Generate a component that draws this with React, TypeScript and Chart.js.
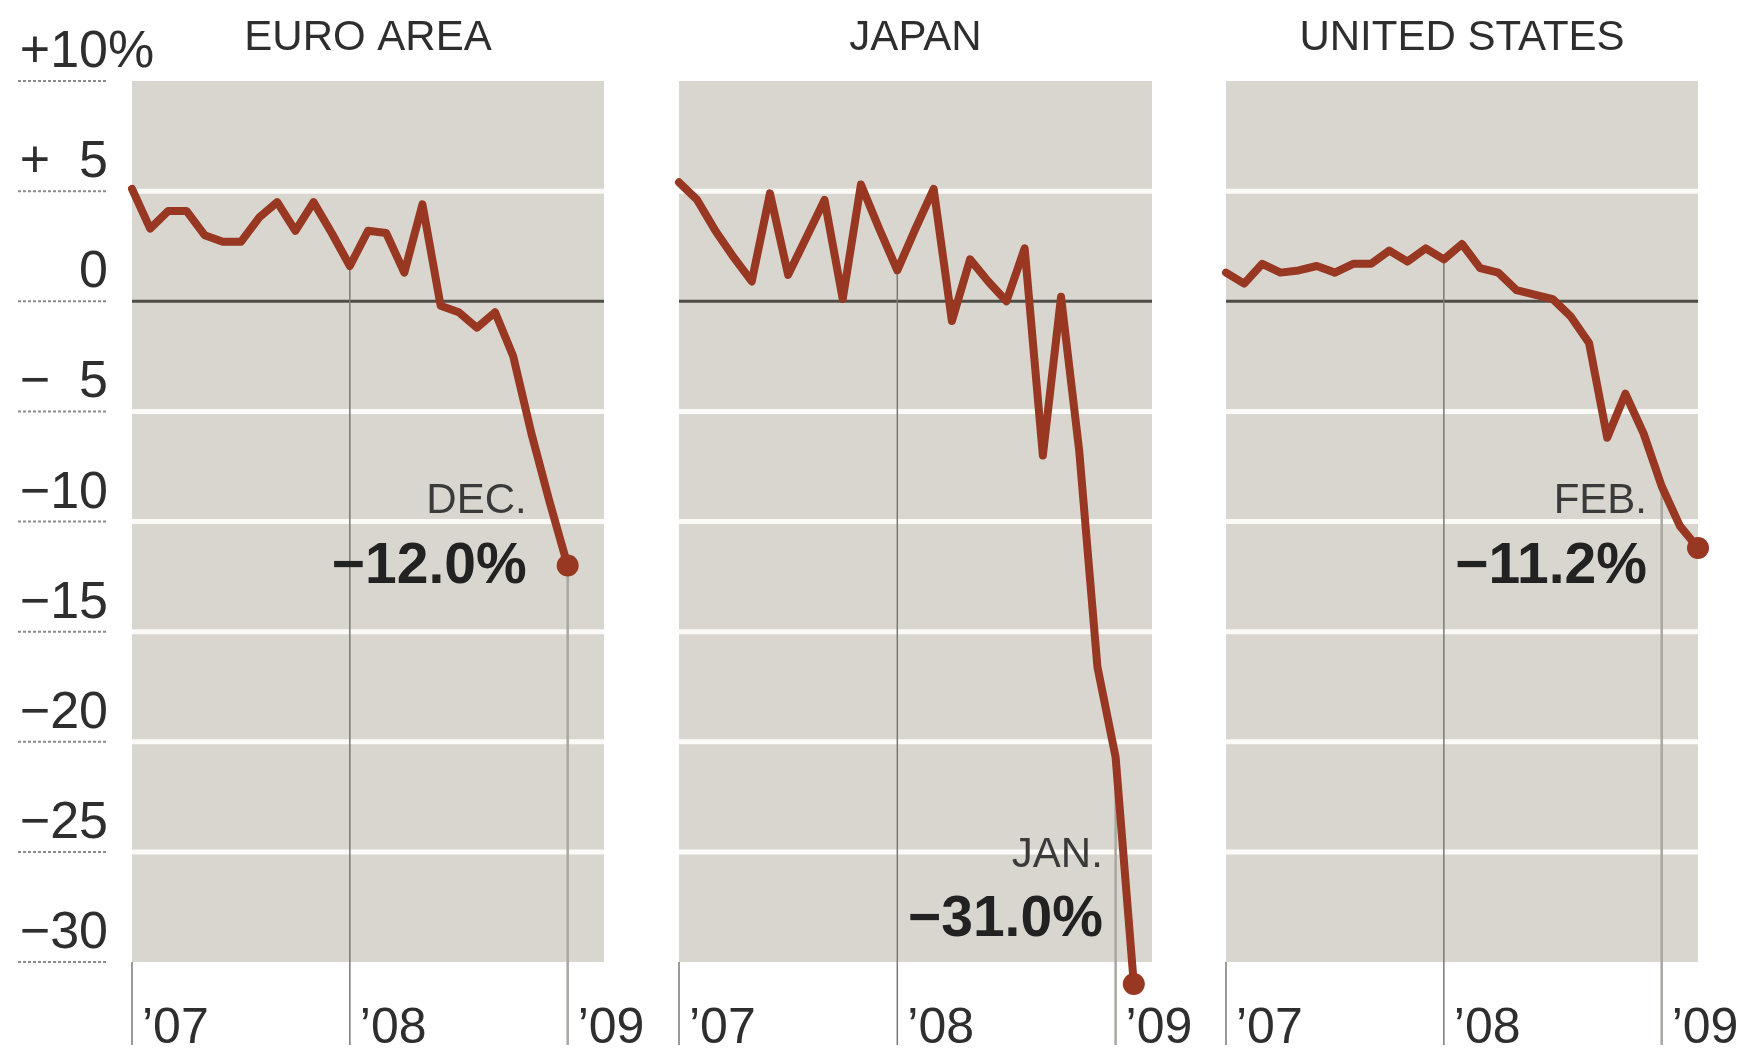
import React, { useEffect, useRef } from "react";
import { Chart, registerables } from "chart.js";

Chart.register(...registerables);

// ---- data ----
const monthLabels = [
  "Dec 2006",
  "Jan 2007", "Feb 2007", "Mar 2007", "Apr 2007", "May 2007", "Jun 2007",
  "Jul 2007", "Aug 2007", "Sep 2007", "Oct 2007", "Nov 2007", "Dec 2007",
  "Jan 2008", "Feb 2008", "Mar 2008", "Apr 2008", "May 2008", "Jun 2008",
  "Jul 2008", "Aug 2008", "Sep 2008", "Oct 2008", "Nov 2008", "Dec 2008",
  "Jan 2009", "Feb 2009",
];

const euroAreaValues = [
  5.1, 3.3, 4.1, 4.1, 3.0, 2.7, 2.7, 3.8, 4.5, 3.2, 4.5, 3.1, 1.6,
  3.2, 3.1, 1.3, 4.4, -0.2, -0.5, -1.2, -0.5, -2.5, -6.0, -9.1, -12.0,
];

const japanValues = [
  5.4, 4.6, 3.2, 2.0, 0.9, 4.9, 1.2, 2.9, 4.6, 0.1, 5.3, 3.3, 1.4,
  3.3, 5.1, -0.9, 1.9, 0.9, 0.0, 2.4, -7.0, 0.2, -6.8, -16.6, -20.7, -31.0,
];

const unitedStatesValues = [
  1.3, 0.8, 1.7, 1.3, 1.4, 1.6, 1.3, 1.7, 1.7, 2.3, 1.8, 2.4, 1.9,
  2.6, 1.5, 1.3, 0.5, 0.3, 0.1, -0.7, -1.9, -6.2, -4.2, -6.0, -8.4, -10.2, -11.2,
];

const panelTitles = ["EURO AREA", "JAPAN", "UNITED STATES"];
const lastMonthLabels = ["DEC.", "JAN.", "FEB."];
const lastValueLabels = ["\u221212.0%", "\u221231.0%", "\u221211.2%"];

const yTickValues = [10, 5, 0, -5, -10, -15, -20, -25, -30];
const yTickLabels = ["+10%", "+ 5", "0", "\u2212 5", "\u221210", "\u221215", "\u221220", "\u221225", "\u221230"];
const whiteGridValues = [5, -5, -10, -15, -20, -25];

const yearTickIndices = [0, 12, 24];
const yearTickLabels = ["\u201907", "\u201908", "\u201909"];

// ---- styling / layout ----
const PAGE_H = 1050;
const PLOT_TOP = 81;
const PLOT_BOTTOM = 962;
const YEAR_LINE_END = 1045;
const FONT = '"Liberation Sans", Arial, Helvetica, sans-serif';
const LINE_COLOR = "#983722";
const BG_GRAY = "#d9d6cf";

type PanelSpec = {
  values: number[];
  title: string;
  monthLabel: string;
  valueLabel: string;
  canvasLeft: number;
  canvasWidth: number;
  plotLeft: number;
  plotRight: number;
  showYAxis: boolean;
  annRightOffset: number;
  annMonthY: number;
  annValueY: number;
};

const PANELS: PanelSpec[] = [
  {
    values: euroAreaValues, title: panelTitles[0], monthLabel: lastMonthLabels[0], valueLabel: lastValueLabels[0],
    canvasLeft: 0, canvasWidth: 655, plotLeft: 132, plotRight: 604, showYAxis: true,
    annRightOffset: -41, annMonthY: -9.6, annValueY: -12.8,
  },
  {
    values: japanValues, title: panelTitles[1], monthLabel: lastMonthLabels[1], valueLabel: lastValueLabels[1],
    canvasLeft: 655, canvasWidth: 545, plotLeft: 679, plotRight: 1152, showYAxis: false,
    annRightOffset: -31, annMonthY: -25.7, annValueY: -28.8,
  },
  {
    values: unitedStatesValues, title: panelTitles[2], monthLabel: lastMonthLabels[2], valueLabel: lastValueLabels[2],
    canvasLeft: 1200, canvasWidth: 544, plotLeft: 1226, plotRight: 1698, showYAxis: false,
    annRightOffset: -51, annMonthY: -9.6, annValueY: -12.8,
  },
];

function makeDecor(p: PanelSpec) {
  return {
    id: "panelDecor",
    beforeDraw(chart: any) {
      const { ctx, chartArea } = chart;
      ctx.save();
      ctx.fillStyle = "#ffffff";
      ctx.fillRect(0, 0, chart.width, chart.height);
      ctx.fillStyle = BG_GRAY;
      ctx.fillRect(chartArea.left, chartArea.top, chartArea.right - chartArea.left, chartArea.bottom - chartArea.top);
      ctx.restore();
    },
    beforeDatasetsDraw(chart: any) {
      const { ctx, chartArea, scales } = chart;
      const xs = scales.x;
      const ys = scales.y;
      ctx.save();
      // white grid lines
      ctx.strokeStyle = "#fbfaf7";
      ctx.lineWidth = 5;
      for (const v of whiteGridValues) {
        const y = ys.getPixelForValue(v);
        ctx.beginPath();
        ctx.moveTo(chartArea.left, y);
        ctx.lineTo(chartArea.right, y);
        ctx.stroke();
      }
      // zero line
      ctx.strokeStyle = "#4f4e46";
      ctx.lineWidth = 3;
      const y0 = ys.getPixelForValue(0);
      ctx.beginPath();
      ctx.moveTo(chartArea.left, y0);
      ctx.lineTo(chartArea.right, y0);
      ctx.stroke();

      // year drop lines + labels
      yearTickIndices.forEach((idx, k) => {
        const x = xs.getPixelForValue(idx);
        const yStart = k === 0 ? chartArea.bottom : ys.getPixelForValue(p.values[idx]);
        ctx.beginPath();
        if (k === 2) {
          ctx.strokeStyle = "#a9a7a1";
          ctx.lineWidth = 2.5;
        } else {
          ctx.strokeStyle = "#7a7974";
          ctx.lineWidth = 1.5;
        }
        ctx.moveTo(x, yStart);
        ctx.lineTo(x, YEAR_LINE_END);
        ctx.stroke();
        ctx.fillStyle = "#2e2e2e";
        ctx.font = `50px ${FONT}`;
        ctx.textAlign = "left";
        ctx.textBaseline = "alphabetic";
        ctx.fillText(yearTickLabels[k], x + 10, 1043);
      });

      // title
      ctx.fillStyle = "#2e2e2e";
      ctx.font = `42px ${FONT}`;
      ctx.textAlign = "center";
      ctx.textBaseline = "alphabetic";
      ctx.fillText(p.title, (chartArea.left + chartArea.right) / 2, 50);

      // y axis labels (first panel)
      if (p.showYAxis) {
        const xR = 108;
        ctx.font = `52px ${FONT}`;
        const twoDigits = ctx.measureText("00").width;
        yTickValues.forEach((v, i) => {
          const y = ys.getPixelForValue(v);
          ctx.save();
          ctx.strokeStyle = "#8b8b8b";
          ctx.lineWidth = 2;
          ctx.setLineDash([3, 2]);
          ctx.beginPath();
          ctx.moveTo(18, y);
          ctx.lineTo(xR, y);
          ctx.stroke();
          ctx.restore();

          let label = yTickLabels[i];
          let sign = "";
          let suffix = "";
          if (label[0] === "+" || label[0] === "\u2212") {
            sign = label[0];
            label = label.slice(1).trim();
          }
          if (label.endsWith("%")) {
            suffix = "%";
            label = label.slice(0, -1);
          }
          const base = y - 14;
          ctx.fillStyle = "#2e2e2e";
          ctx.textAlign = "right";
          ctx.fillText(label, xR, base);
          if (sign) ctx.fillText(sign, xR - twoDigits, base);
          if (suffix) {
            ctx.textAlign = "left";
            ctx.fillText(suffix, xR, base);
          }
        });
      }
      ctx.restore();
    },
    afterDatasetsDraw(chart: any) {
      const { ctx, scales } = chart;
      const xs = scales.x;
      const ys = scales.y;
      const last = p.values.length - 1;
      // end-point dot (drawn here so it also shows outside the plot area)
      const pt = chart.getDatasetMeta(0).data[last];
      ctx.save();
      ctx.fillStyle = LINE_COLOR;
      ctx.beginPath();
      ctx.arc(pt.x, pt.y, 11, 0, Math.PI * 2);
      ctx.fill();

      const xRight = xs.getPixelForValue(last) + p.annRightOffset;
      ctx.textAlign = "right";
      ctx.textBaseline = "alphabetic";
      ctx.fillStyle = "#3a3a3a";
      ctx.font = `42px ${FONT}`;
      ctx.fillText(p.monthLabel, xRight, ys.getPixelForValue(p.annMonthY));
      ctx.fillStyle = "#222222";
      ctx.font = `bold 57px ${FONT}`;
      ctx.fillText(p.valueLabel, xRight, ys.getPixelForValue(p.annValueY));
      ctx.restore();
    },
  };
}

function Panel({ spec }: { spec: PanelSpec }) {
  const ref = useRef<HTMLCanvasElement | null>(null);
  useEffect(() => {
    if (!ref.current) return;
    const chart = new Chart(ref.current, {
      type: "line",
      data: {
        labels: monthLabels,
        datasets: [
          {
            data: spec.values,
            borderColor: LINE_COLOR,
            backgroundColor: LINE_COLOR,
            borderWidth: 8,
            borderJoinStyle: "round",
            borderCapStyle: "round",
            tension: 0,
            clip: false as any,
            pointRadius: 0,
            pointHoverRadius: 0,
          } as any,
        ],
      },
      options: {
        responsive: false,
        maintainAspectRatio: false,
        animation: false,
        devicePixelRatio: 1,
        events: [],
        layout: {
          padding: {
            left: spec.plotLeft - spec.canvasLeft,
            right: spec.canvasLeft + spec.canvasWidth - spec.plotRight,
            top: PLOT_TOP,
            bottom: PAGE_H - PLOT_BOTTOM,
          },
        },
        scales: {
          x: { type: "category", display: false, offset: false },
          y: { type: "linear", display: false, min: -30, max: 10 },
        },
        plugins: {
          legend: { display: false },
          tooltip: { enabled: false },
        },
      },
      plugins: [makeDecor(spec)],
    });
    return () => chart.destroy();
  }, [spec]);
  return (
    <canvas
      ref={ref}
      width={spec.canvasWidth}
      height={PAGE_H}
      style={{ position: "absolute", left: spec.canvasLeft, top: 0, width: spec.canvasWidth, height: PAGE_H }}
    />
  );
}

export default function App() {
  return (
    <div style={{ position: "absolute", left: 0, top: 0, width: 1744, height: PAGE_H, background: "#ffffff", overflow: "hidden" }}>
      {PANELS.map((p, i) => (
        <Panel key={i} spec={p} />
      ))}
    </div>
  );
}
